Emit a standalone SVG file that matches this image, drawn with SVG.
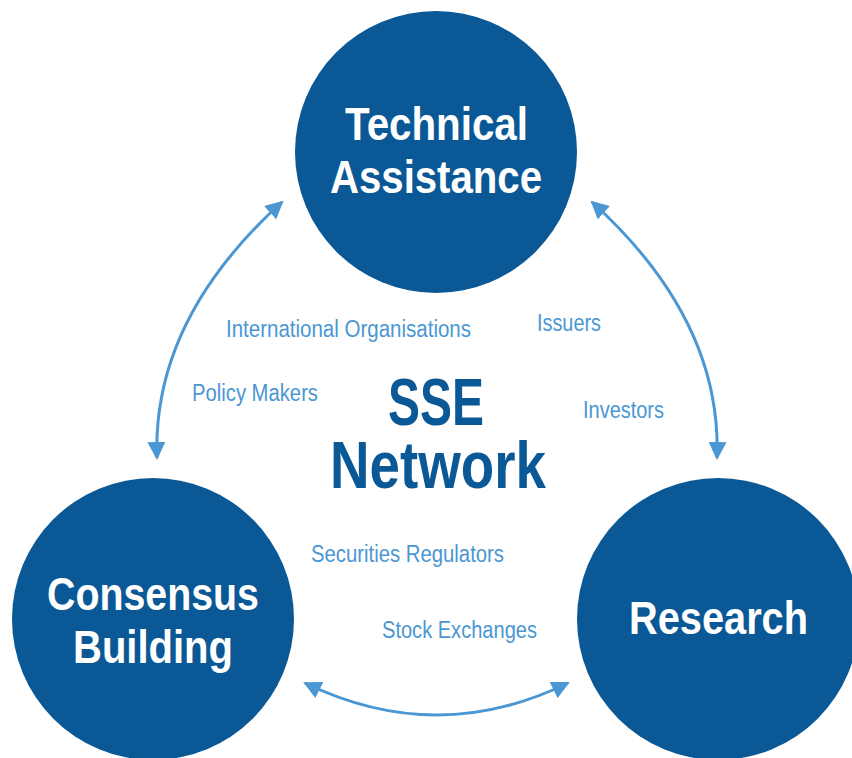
<svg xmlns="http://www.w3.org/2000/svg" width="852" height="758" viewBox="0 0 852 758">
<style>
.node{fill:#0a5895}
.big{font-family:"Liberation Sans",Arial,sans-serif;font-weight:bold;fill:#ffffff;font-size:47px}
.center{font-family:"Liberation Sans",Arial,sans-serif;font-weight:bold;fill:#0a5895;font-size:66px}
.lbl{font-family:"Liberation Sans",Arial,sans-serif;fill:#4a97d3;font-size:23px}
.conn{fill:none;stroke:#4a97d3;stroke-width:3}
</style>
<defs>
<marker id="ah" markerUnits="userSpaceOnUse" markerWidth="18" markerHeight="18" viewBox="0 0 18 18" refX="16" refY="9" orient="auto-start-reverse">
<path d="M0,0 L18,9 L0,18 z" fill="#4a97d3"/>
</marker>
</defs>
<rect width="852" height="758" fill="#ffffff"/>
<g id="connectors">
<path class="conn" d="M282,202 Q152,320 157,458" marker-start="url(#ah)" marker-end="url(#ah)"/>
<path class="conn" d="M592,202 Q722,320 717,458" marker-start="url(#ah)" marker-end="url(#ah)"/>
<path class="conn" d="M305,683 Q437,747 568,683" marker-start="url(#ah)" marker-end="url(#ah)"/>
</g>
<g id="technical-assistance">
<circle class="node" cx="436" cy="152" r="141"/>
<text class="big" x="345" y="140" textLength="183" lengthAdjust="spacingAndGlyphs">Technical</text>
<text class="big" x="330" y="193" textLength="212" lengthAdjust="spacingAndGlyphs">Assistance</text>
</g>
<g id="consensus-building">
<circle class="node" cx="153" cy="619" r="141"/>
<text class="big" x="47" y="610" textLength="212" lengthAdjust="spacingAndGlyphs">Consensus</text>
<text class="big" x="73" y="663" textLength="160" lengthAdjust="spacingAndGlyphs">Building</text>
</g>
<g id="research">
<circle class="node" cx="718" cy="619" r="141"/>
<text class="big" x="629" y="634" textLength="179" lengthAdjust="spacingAndGlyphs">Research</text>
</g>
<g id="sse-network">
<text class="center" x="388" y="425" textLength="96" lengthAdjust="spacingAndGlyphs">SSE</text>
<text class="center" x="330" y="488" textLength="216" lengthAdjust="spacingAndGlyphs">Network</text>
</g>
<g id="labels">
<text class="lbl" x="226" y="337" textLength="245" lengthAdjust="spacingAndGlyphs">International Organisations</text>
<text class="lbl" x="192" y="401" textLength="126" lengthAdjust="spacingAndGlyphs">Policy Makers</text>
<text class="lbl" x="537" y="331" textLength="64" lengthAdjust="spacingAndGlyphs">Issuers</text>
<text class="lbl" x="583" y="418" textLength="81" lengthAdjust="spacingAndGlyphs">Investors</text>
<text class="lbl" x="311" y="562" textLength="193" lengthAdjust="spacingAndGlyphs">Securities Regulators</text>
<text class="lbl" x="382" y="638" textLength="155" lengthAdjust="spacingAndGlyphs">Stock Exchanges</text>
</g>
</svg>
